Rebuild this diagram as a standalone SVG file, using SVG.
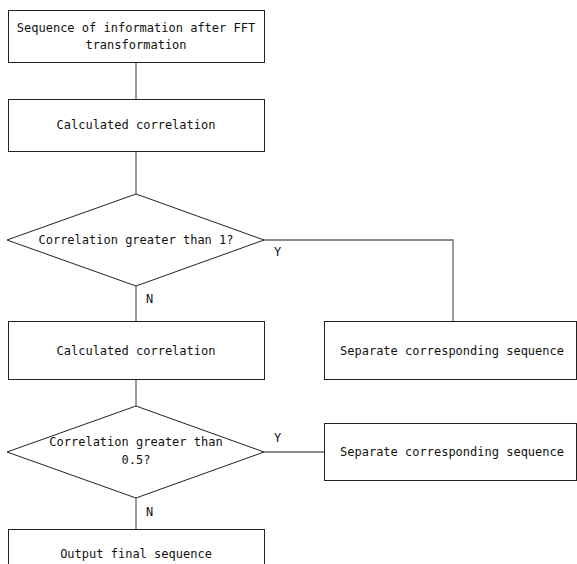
<svg xmlns="http://www.w3.org/2000/svg" width="577" height="564" viewBox="0 0 577 564">
<style>
.s{fill:#fff;stroke:#222;stroke-width:1}
.c{fill:none;stroke:#666;stroke-width:1.3}
text{font-family:"DejaVu Sans Mono","Liberation Mono",monospace;font-size:12px;fill:#111;text-anchor:middle}
.l{text-anchor:start}
</style>
<rect width="577" height="564" fill="#fff"/>
<g id="connectors">
<line class="c" x1="136" y1="62" x2="136" y2="99"/>
<line class="c" x1="136" y1="151" x2="136" y2="194"/>
<line class="c" x1="136" y1="286" x2="136" y2="321"/>
<polyline class="c" points="264,240 453,240 453,321"/>
<line class="c" x1="136" y1="379" x2="136" y2="406"/>
<line class="c" x1="264" y1="452" x2="324" y2="452"/>
<line class="c" x1="136" y1="498" x2="136" y2="529"/>
<text class="l" x="274" y="256">Y</text>
<text class="l" x="146" y="303">N</text>
<text class="l" x="274" y="442">Y</text>
<text class="l" x="146" y="516">N</text>
</g>
<g id="n1"><rect class="s" x="8.5" y="10.5" width="256" height="52"/>
<text x="136" y="32">Sequence of information after FFT</text><text x="136" y="49">transformation</text></g>
<g id="n2"><rect class="s" x="8.5" y="99.5" width="256" height="52"/>
<text x="136" y="129">Calculated correlation</text></g>
<g id="d1"><polygon class="s" points="136,194 264,240 136,286 7,240"/>
<text x="136" y="244">Correlation greater than 1?</text></g>
<g id="n3"><rect class="s" x="8.5" y="321.5" width="256" height="58"/>
<text x="136" y="355">Calculated correlation</text></g>
<g id="n4"><rect class="s" x="324.5" y="321.5" width="252" height="58"/>
<text x="452" y="355">Separate corresponding sequence</text></g>
<g id="d2"><polygon class="s" points="136,406 264,452 136,498 7,452"/>
<text x="136" y="446">Correlation greater than</text><text x="136" y="464">0.5?</text></g>
<g id="n5"><rect class="s" x="324.5" y="423.5" width="252" height="57"/>
<text x="452" y="456">Separate corresponding sequence</text></g>
<g id="n6"><rect class="s" x="8.5" y="529.5" width="256" height="60"/>
<text x="136" y="558">Output final sequence</text></g>
</svg>
